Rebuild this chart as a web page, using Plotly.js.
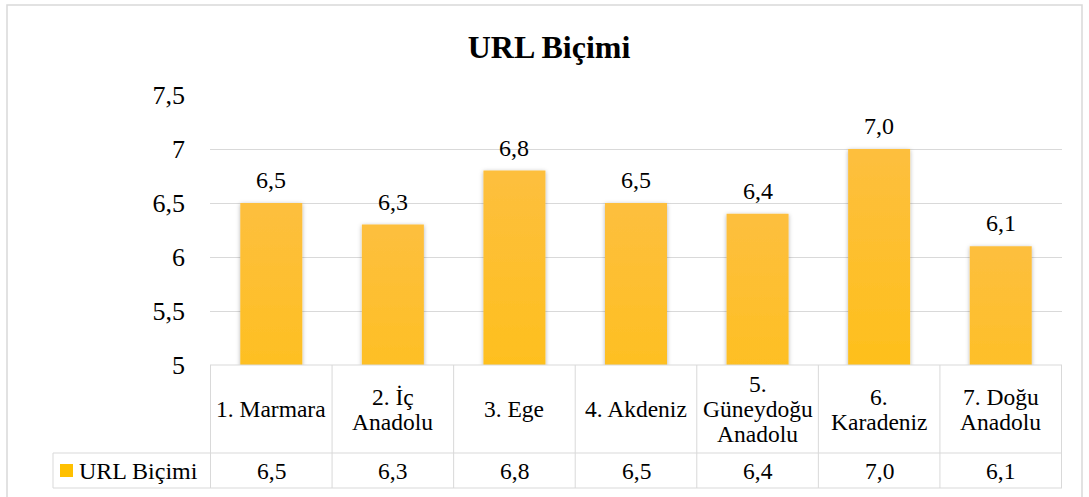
<!DOCTYPE html>
<html>
<head>
<meta charset="utf-8">
<script src="https://cdn.plot.ly/plotly-3.0.1.min.js"></script>
<style>
  html, body { margin: 0; padding: 0; background: #ffffff; }
  #chart { width: 1089px; height: 497px; }
</style>
</head>
<body>
<div id="chart"></div>
<script>
// ---- data ----
const chartTitle = "URL Biçimi";
const seriesName = "URL Biçimi";
const categories = ["1. Marmara", "2. İç Anadolu", "3. Ege", "4. Akdeniz", "5. Güneydoğu Anadolu", "6. Karadeniz", "7. Doğu Anadolu"];
const categoryLines = [["1. Marmara"], ["2. İç", "Anadolu"], ["3. Ege"], ["4. Akdeniz"], ["5.", "Güneydoğu", "Anadolu"], ["6.", "Karadeniz"], ["7. Doğu", "Anadolu"]];
const values = [6.5, 6.3, 6.8, 6.5, 6.4, 7.0, 6.1];
const yTicks = [5, 5.5, 6, 6.5, 7, 7.5];

// ---- layout helpers (pixel -> paper) ----
const W = 1089, H = 497;
const L = 210, R = 27, T = 95, B = 132;
const PW = W - L - R, PH = H - T - B;
const px = v => (v - L) / PW;
const py = v => (H - B - v) / PH;

const FONT = "Liberation Serif";
const gridCol = "#d9d9d9";
const fmt = v => v.toFixed(1).replace(".", ",");

const trace = {
  type: "bar",
  name: seriesName,
  x: categories,
  y: values,
  marker: { color: "#FFC000", line: { width: 0 } },
  showlegend: false,
  hoverinfo: "x+y"
};

const shapes = [];
const annotations = [];
const line = { color: gridCol, width: 1 };

shapes.push({ type: "line", xref: "paper", yref: "paper", x0: 0, x1: 1, y0: 0, y1: 0, line });
[453, 488].forEach(yy => {
  shapes.push({ type: "line", xref: "paper", yref: "paper", x0: px(53), x1: 1, y0: py(yy), y1: py(yy), line });
});
for (let k = 0; k <= categories.length; k++) {
  shapes.push({ type: "line", xref: "x", yref: "paper", x0: k - 0.5, x1: k - 0.5, y0: 0, y1: py(488), line });
}
shapes.push({ type: "line", xref: "paper", yref: "paper", x0: px(53), x1: px(53), y0: py(453), y1: py(488), line });
shapes.push({ type: "rect", xref: "paper", yref: "paper", x0: px(7), x1: px(1082), y0: py(5), y1: py(500), line: { color: gridCol, width: 1.5 }, fillcolor: "rgba(0,0,0,0)", layer: "below" });
// legend key
shapes.push({ type: "rect", xref: "paper", yref: "paper", x0: px(60), x1: px(73), y0: py(464), y1: py(477), line: { width: 0 }, fillcolor: "#FFC000" });
annotations.push({
  xref: "paper", yref: "paper", x: px(77), y: py(471), text: seriesName,
  showarrow: false, xanchor: "left", yanchor: "middle",
  font: { family: FONT, size: 24, color: "#000000" }
});

// data labels above bars
categories.forEach((c, i) => {
  annotations.push({
    xref: "x", yref: "y", x: c, y: values[i], text: fmt(values[i]),
    showarrow: false, xanchor: "center", yanchor: "middle", yshift: 23,
    font: { family: FONT, size: 24, color: "#000000" }
  });
});

// data table cells
const LINE_H = 25, HEAD_MID = 409;
categories.forEach((c, i) => {
  const lines = categoryLines[i];
  lines.forEach((t, j) => {
    const yy = HEAD_MID + (j - (lines.length - 1) / 2) * LINE_H;
    annotations.push({
      xref: "x", yref: "paper", x: c, y: py(yy), text: t,
      showarrow: false, xanchor: "center", yanchor: "middle",
      font: { family: FONT, size: 23.5, color: "#000000" }
    });
  });
  annotations.push({
    xref: "x", yref: "paper", x: c, y: py(471), text: fmt(values[i]),
    showarrow: false, xanchor: "center", yanchor: "middle",
    font: { family: FONT, size: 23.5, color: "#000000" }
  });
});

const layout = {
  width: W, height: H,
  margin: { l: L, r: R, t: T, b: B, pad: 0, autoexpand: false },
  paper_bgcolor: "#ffffff",
  plot_bgcolor: "#ffffff",
  separators: ",.",
  font: { family: FONT, color: "#000000" },
  title: {
    text: "<b>" + chartTitle + "</b>",
    font: { family: FONT, size: 32, color: "#000000" },
    x: 549 / W, xanchor: "center",
    y: 1 - 47 / H, yanchor: "middle", xref: "container", yref: "container"
  },
  bargap: 0.49,
  xaxis: {
    type: "category",
    showticklabels: false,
    ticks: "",
    showgrid: false,
    zeroline: false,
    showline: false,
    fixedrange: true
  },
  yaxis: {
    range: [5, 7.5],
    tickvals: yTicks,
    ticks: "",
    ticklabelstandoff: 24,
    showgrid: true,
    gridcolor: gridCol,
    gridwidth: 1,
    zeroline: false,
    showline: false,
    tickfont: { family: FONT, size: 26, color: "#000000" },
    fixedrange: true
  },
  showlegend: false,
  shapes, annotations
};

Plotly.newPlot("chart", [trace], layout, { displayModeBar: false, staticPlot: true }).then(gd => {
  const svg = gd.querySelector(".main-svg");
  const ns = "http://www.w3.org/2000/svg";
  let defs = svg.querySelector("defs");
  if (!defs) { defs = document.createElementNS(ns, "defs"); svg.insertBefore(defs, svg.firstChild); }
  const grad = document.createElementNS(ns, "linearGradient");
  grad.setAttribute("id", "barGrad");
  grad.setAttribute("x1", "0"); grad.setAttribute("y1", "0");
  grad.setAttribute("x2", "0"); grad.setAttribute("y2", "1");
  [["0%", "#FDBF3E"], ["52%", "#FFC000"], ["100%", "#E6B300"]].forEach(([o, c]) => {
    const s = document.createElementNS(ns, "stop");
    s.setAttribute("offset", o); s.setAttribute("stop-color", c);
    grad.appendChild(s);
  });
  defs.appendChild(grad);
  const filt = document.createElementNS(ns, "filter");
  filt.setAttribute("id", "barShadow");
  filt.setAttribute("x", "-20%"); filt.setAttribute("y", "-5%");
  filt.setAttribute("width", "140%"); filt.setAttribute("height", "110%");
  const ds = document.createElementNS(ns, "feDropShadow");
  ds.setAttribute("dx", "0"); ds.setAttribute("dy", "1");
  ds.setAttribute("stdDeviation", "2");
  ds.setAttribute("flood-color", "#000000"); ds.setAttribute("flood-opacity", "0.3");
  filt.appendChild(ds);
  defs.appendChild(filt);
  gd.querySelectorAll(".bars .point path").forEach(p => {
    p.style.fill = "url(#barGrad)";
    p.setAttribute("filter", "url(#barShadow)");
  });
});
</script>
</body>
</html>
